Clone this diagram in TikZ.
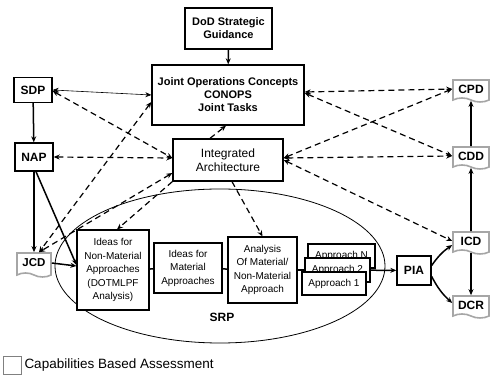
\documentclass[tikz,border=0pt]{standalone}
\usepackage{fontspec}
\setmainfont{Liberation Sans}
\usetikzlibrary{positioning, arrows.meta, shapes.symbols, shapes.geometric}

\begin{document}
\begin{tikzpicture}[x=1pt, y=-1pt, >={Stealth[length=6pt,width=5pt]},
        font=\fontsize{10}{13.5}\selectfont,
        box/.style={draw, line width=1.1pt, fill=white, inner sep=1pt, align=center},
        topbox/.style={box, line width=1.3pt, font=\fontsize{11}{13}\selectfont\bfseries},
        docbox/.style={shape=tape, tape bend top=none, tape bend bottom=out and in, tape bend height=4pt,
                       draw=gray!70, line width=1.6pt, fill=white, text=black, minimum width=36pt, minimum height=22pt,
                       inner sep=1pt, font=\fontsize{12}{14}\selectfont\bfseries},
        dsh/.style={dash pattern=on 6pt off 4pt, line width=1.2pt},
        thk/.style={line width=1.5pt}]
      \useasboundingbox (0,0) rectangle (491,379);
      \node[ellipse, draw, line width=0.8pt, minimum width=330pt, minimum height=154pt] (srp) at (220,266) {};
      \node[font=\fontsize{12}{14}\selectfont\bfseries] (srplbl) at (222,317) {SRP};

      \node[topbox, minimum width=87pt, minimum height=41pt] (dod) at (228.5,28.5) {DoD Strategic\\Guidance};
      \node[topbox, minimum width=152pt, minimum height=60pt] (joc) at (228,95) {Joint Operations Concepts\\CONOPS\\Joint Tasks};
      \node[topbox, minimum width=110pt, minimum height=42pt, font=\fontsize{12}{14}\selectfont] (ia) at (228,160) {Integrated\\Architecture};
      \node[topbox, minimum width=38pt, minimum height=25pt, font=\fontsize{12}{14}\selectfont\bfseries] (sdp) at (33,90) {SDP};
      \node[topbox, minimum width=38pt, minimum height=28pt, font=\fontsize{12}{14}\selectfont\bfseries] (nap) at (34,157) {NAP};

      \node[docbox] (cpd) at (471,89) {CPD};
      \node[docbox] (cdd) at (471,156) {CDD};
      \node[docbox] (icd) at (471,241) {ICD};
      \node[docbox] (dcr) at (471,305) {DCR};
      \node[docbox, minimum width=34pt, minimum height=24pt, font=\fontsize{11.5}{14}\selectfont\bfseries] (jcd) at (34,263) {JCD};

      \node[box, minimum width=72pt, minimum height=80pt] (inm) at (113,270) {Ideas for\\Non-Material\\Approaches\\(DOTMLPF\\Analysis)};
      \node[box, minimum width=68pt, minimum height=50pt] (im) at (188,268) {Ideas for\\Material\\Approaches};
      \node[box, minimum width=69pt, minimum height=66pt] (ana) at (262.5,270) {Analysis\\Of Material/\\Non-Material\\Approach};
      \node[box, minimum width=67pt, minimum height=24pt] (apn) at (341.5,256) {Approach N};
      \node[box, minimum width=65pt, minimum height=24pt] (ap2) at (337.5,270) {Approach 2};
      \node[box, minimum width=64pt, minimum height=23pt] (ap1) at (334,283.5) {Approach 1};
      \node[topbox, minimum width=34pt, minimum height=29pt, font=\fontsize{12}{14}\selectfont\bfseries] (pia) at (414,270.5) {PIA};

      \node[draw=gray, line width=0.6pt, minimum size=18pt, inner sep=0pt] (key) at (12,365.5) {};
      \node[right=3pt of key, inner sep=0pt, font=\fontsize{13.5}{15}\selectfont] (keytxt) {Capabilities Based Assessment};

      \draw[->, thk] (dod) -- (joc);
      \draw[<->, line width=0.6pt] (sdp.east) -- (joc.west);
      \draw[->, thk] (sdp) -- (nap);
      \draw[->, thk] (nap) -- (jcd);
      \draw[->, thk] ([xshift=2pt]nap.south) -- ([yshift=5pt]inm.west);
      \draw[->, thk] (jcd.east) -- ([yshift=4pt]inm.west);
      \draw[thk] (inm) -- (im);
      \draw[thk] (im) -- (ana);
      \draw[thk] (ana) -- (ap2);
      \draw[->, thk] (ap2) -- (pia);
      \draw[->, thk] ([yshift=5pt]pia.east) to[bend left=10] ([yshift=-4pt]icd.west);
      \draw[->, thk] ([yshift=-6pt]pia.east) to[bend right=10] ([yshift=2pt]dcr.west);
      \draw[->, line width=1.8pt] (cdd) -- (cpd);
      \draw[->, line width=1.8pt] (icd) -- (cdd);
      \draw[->, line width=1.8pt] (icd) -- (dcr);

      \draw[dsh, <->] ([yshift=-1pt]sdp.east) -- ([yshift=2pt]ia.west);
      \draw[dsh, <->] (nap.east) -- ([yshift=2pt]ia.west);
      \draw[dsh, <->] ([yshift=-7pt]joc.west) -- ([xshift=5pt]jcd.north);
      \draw[dsh, <->] ([yshift=-13pt]ia.west) -- ([xshift=5pt]jcd.north);
      \draw[dsh, ->] (ia.south west) -- ([xshift=4pt]inm.north);
      \draw[dsh, ->] ([xshift=4pt]ia.south) -- (ana.north);
      \draw[dsh, ->] ([xshift=-18pt]ia.north) -- ([xshift=-2pt]joc.south);
      \draw[dsh, <->] ([yshift=3pt]joc.east) -- (cpd.west);
      \draw[dsh, <->] ([yshift=2pt]joc.east) -- (cdd.west);
      \draw[dsh, <->] ([yshift=2pt]ia.east) -- (cpd.west);
      \draw[dsh, <->] ([yshift=2pt]ia.east) -- (cdd.west);
      \draw[dsh, <->] (ia.east) -- (icd.west);
    \end{tikzpicture}
\end{document}
